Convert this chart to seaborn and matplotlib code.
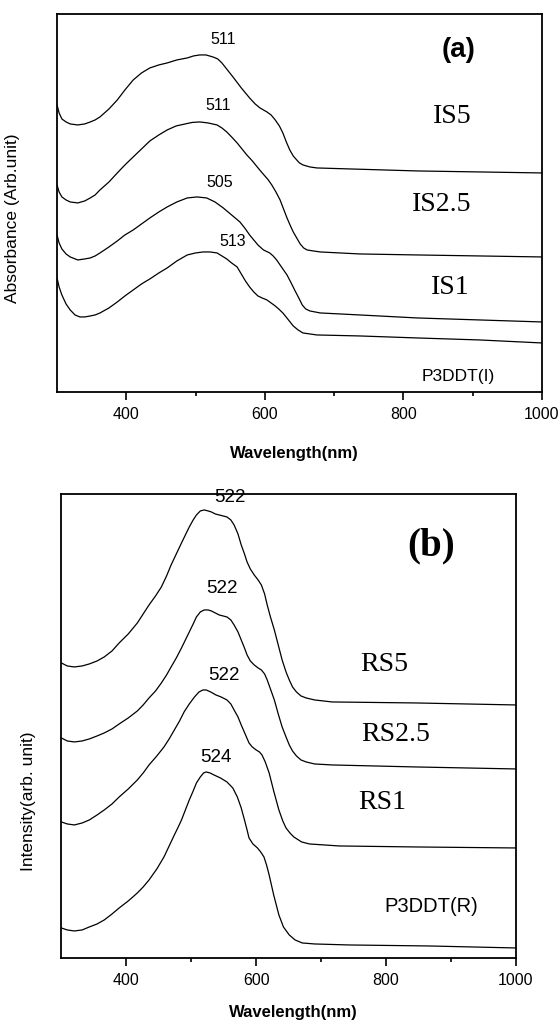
import pandas as pd
import matplotlib
matplotlib.use('Agg')
import matplotlib.pyplot as plt
import seaborn as sns

# --- panel (a): absorbance, curves stacked with offsets (arb. units) ---
wl_IS5 = [300, 303, 307, 313, 319, 330, 340, 348, 355, 362, 375, 387, 398, 410, 422, 434, 447, 459,
          473, 488, 497, 506, 515, 525, 532, 538, 546, 554, 566, 578, 586, 593, 603, 609, 615, 621,
          626, 631, 636, 641, 646, 650, 655, 665, 675, 723, 820, 910, 1000]
abs_IS5 = [2.85, 2.77, 2.71, 2.68, 2.66, 2.65, 2.66, 2.68, 2.70, 2.73, 2.81, 2.90, 3.00, 3.10, 3.17,
           3.22, 3.25, 3.27, 3.30, 3.32, 3.34, 3.35, 3.35, 3.33, 3.31, 3.27, 3.20, 3.13, 3.02, 2.92,
           2.86, 2.82, 2.78, 2.75, 2.70, 2.64, 2.57, 2.48, 2.40, 2.34, 2.30, 2.27, 2.25, 2.23, 2.22,
           2.21, 2.19, 2.18, 2.17]

wl_IS25 = [300, 303, 307, 313, 319, 330, 340, 348, 355, 362, 375, 387, 398, 410, 422, 434, 447, 459,
           472, 485, 495, 506, 518, 531, 538, 545, 552, 560, 567, 574, 582, 589, 595, 600, 605, 610,
           616, 622, 627, 632, 637, 641, 646, 651, 656, 661, 670, 680, 737, 820, 910, 1000]
abs_IS25 = [2.05, 1.98, 1.93, 1.90, 1.88, 1.87, 1.89, 1.92, 1.95, 2.00, 2.08, 2.17, 2.25, 2.33, 2.41,
            2.49, 2.55, 2.60, 2.64, 2.66, 2.675, 2.68, 2.67, 2.65, 2.62, 2.58, 2.53, 2.47, 2.41, 2.35,
            2.29, 2.23, 2.18, 2.14, 2.10, 2.05, 1.98, 1.90, 1.81, 1.72, 1.64, 1.58, 1.52, 1.46, 1.42,
            1.40, 1.39, 1.38, 1.36, 1.35, 1.34, 1.33]

wl_IS1 = [300, 303, 307, 313, 319, 330, 340, 348, 355, 362, 375, 387, 398, 410, 422, 434, 447, 459,
          473, 488, 502, 516, 528, 540, 552, 564, 572, 578, 584, 590, 598, 607, 612, 617, 624, 632,
          638, 643, 649, 654, 659, 665, 680, 737, 820, 910, 1000]
abs_IS1 = [1.55, 1.47, 1.41, 1.36, 1.33, 1.30, 1.31, 1.32, 1.34, 1.37, 1.43, 1.49, 1.55, 1.60, 1.66,
           1.72, 1.78, 1.83, 1.88, 1.92, 1.93, 1.92, 1.88, 1.82, 1.75, 1.68, 1.61, 1.55, 1.50, 1.45,
           1.40, 1.37, 1.34, 1.30, 1.23, 1.15, 1.07, 1.00, 0.92, 0.85, 0.81, 0.79, 0.77, 0.75, 0.72,
           0.70, 0.68]

wl_P3I = [300, 303, 307, 313, 319, 326, 333, 340, 348, 355, 362, 375, 387, 398, 410, 422, 434, 447,
          459, 473, 488, 500, 511, 521, 531, 538, 545, 552, 560, 566, 572, 578, 584, 590, 596, 603,
          609, 615, 620, 626, 633, 641, 648, 655, 665, 675, 737, 820, 910, 1000]
abs_P3I = [1.12, 1.03, 0.95, 0.86, 0.80, 0.75, 0.73, 0.73, 0.74, 0.75, 0.77, 0.82, 0.88, 0.94, 1.00,
           1.06, 1.11, 1.17, 1.22, 1.29, 1.35, 1.37, 1.38, 1.38, 1.37, 1.34, 1.31, 1.27, 1.23, 1.16,
           1.09, 1.03, 0.98, 0.94, 0.92, 0.90, 0.87, 0.84, 0.81, 0.77, 0.71, 0.64, 0.60, 0.57, 0.56,
           0.55, 0.54, 0.52, 0.50, 0.47]

# --- panel (b): PL intensity ---
wl_RS5 = [300, 309, 320, 332, 343, 355, 366, 378, 389, 403, 417, 426, 435, 445, 454, 462, 469, 477,
          485, 491, 497, 503, 508, 514, 520, 526, 531, 537, 543, 549, 555, 561, 566, 572, 577, 582,
          586, 591, 597, 603, 608, 613, 617, 622, 628, 634, 640, 646, 651, 656, 662, 669, 677, 690,
          717, 846, 1000]
int_RS5 = [2.95, 2.92, 2.91, 2.92, 2.94, 2.97, 3.01, 3.07, 3.15, 3.24, 3.35, 3.44, 3.53, 3.62, 3.71,
           3.82, 3.93, 4.04, 4.15, 4.23, 4.31, 4.38, 4.43, 4.47, 4.48, 4.47, 4.46, 4.44, 4.43, 4.42,
           4.41, 4.38, 4.33, 4.24, 4.13, 4.04, 3.96, 3.89, 3.83, 3.78, 3.73, 3.64, 3.53, 3.41, 3.28,
           3.13, 2.98, 2.86, 2.78, 2.71, 2.66, 2.62, 2.60, 2.58, 2.56, 2.55, 2.53]

wl_RS25 = [300, 309, 320, 332, 343, 355, 366, 378, 389, 403, 417, 426, 435, 445, 454, 462, 469, 477,
           485, 491, 497, 503, 508, 514, 520, 526, 531, 537, 543, 549, 555, 561, 566, 572, 577, 582,
           586, 591, 597, 603, 608, 613, 617, 622, 628, 634, 640, 646, 651, 656, 662, 669, 677, 690,
           717, 846, 1000]
int_RS25 = [2.20, 2.17, 2.16, 2.17, 2.19, 2.22, 2.25, 2.29, 2.34, 2.40, 2.47, 2.53, 2.60, 2.67, 2.75,
            2.83, 2.91, 3.00, 3.10, 3.18, 3.26, 3.34, 3.41, 3.46, 3.48, 3.48, 3.47, 3.45, 3.43, 3.42,
            3.41, 3.38, 3.33, 3.26, 3.18, 3.10, 3.03, 2.97, 2.93, 2.90, 2.88, 2.84, 2.78, 2.69, 2.58,
            2.44, 2.31, 2.21, 2.13, 2.07, 2.02, 1.98, 1.96, 1.94, 1.93, 1.91, 1.89]

wl_RS1 = [300, 309, 320, 332, 343, 355, 366, 378, 389, 403, 417, 426, 435, 447, 458, 466, 474, 482,
          489, 497, 505, 512, 518, 523, 530, 538, 546, 555, 561, 566, 572, 577, 583, 589, 594, 600,
          605, 609, 614, 620, 627, 635, 641, 646, 652, 658, 670, 682, 728, 846, 1000]
int_RS1 = [1.36, 1.34, 1.33, 1.35, 1.38, 1.43, 1.48, 1.54, 1.61, 1.69, 1.78, 1.85, 1.93, 2.02, 2.11,
           2.19, 2.28, 2.37, 2.46, 2.54, 2.61, 2.66, 2.68, 2.68, 2.66, 2.63, 2.61, 2.58, 2.54, 2.48,
           2.41, 2.33, 2.24, 2.15, 2.11, 2.08, 2.06, 2.03, 1.96, 1.85, 1.67, 1.48, 1.37, 1.30, 1.25,
           1.21, 1.16, 1.14, 1.12, 1.11, 1.10]

wl_P3R = [300, 309, 320, 332, 343, 355, 366, 378, 389, 403, 417, 426, 435, 447, 458, 466, 474, 480,
          485, 491, 497, 503, 508, 514, 519, 523, 529, 535, 545, 555, 564, 571, 577, 582, 586, 589,
          595, 602, 607, 612, 616, 620, 627, 635, 642, 651, 660, 671, 690, 743, 866, 1000]
int_P3R = [0.30, 0.28, 0.27, 0.28, 0.31, 0.34, 0.38, 0.44, 0.50, 0.57, 0.65, 0.71, 0.78, 0.89, 1.01,
           1.12, 1.23, 1.31, 1.38, 1.48, 1.58, 1.67, 1.75, 1.81, 1.85, 1.86, 1.85, 1.83, 1.80, 1.76,
           1.70, 1.61, 1.50, 1.38, 1.28, 1.20, 1.14, 1.10, 1.06, 1.01, 0.93, 0.83, 0.63, 0.43, 0.31,
           0.23, 0.18, 0.15, 0.14, 0.13, 0.12, 0.10]

# peak annotations: text, wavelength, height
peaks_a = [('511', 540, 3.50), ('511', 532, 2.84), ('505', 535, 2.07), ('513', 553, 1.48)]
names_a = [('IS5', 870, 2.73), ('IS2.5', 856, 1.85), ('IS1', 867, 1.02)]
peaks_b = [('522', 560, 4.60), ('522', 548, 3.69), ('522', 551, 2.82), ('524', 538, 2.00)]
names_b = [('RS5', 797, 2.93), ('RS2.5', 815, 2.23), ('RS1', 794, 1.55)]

sns.set_style('ticks')
plt.rcParams['font.family'] = ['Liberation Sans', 'DejaVu Sans']
plt.rcParams['text.color'] = 'black'
plt.rcParams['axes.labelcolor'] = 'black'

fig = plt.figure(figsize=(5.58, 10.25), dpi=100)
ax1 = fig.add_axes([0.1022, 0.6176, 0.869, 0.3688])
ax2 = fig.add_axes([0.110, 0.0654, 0.8145, 0.4527])

for wl, vals in [(wl_IS5, abs_IS5), (wl_IS25, abs_IS25), (wl_IS1, abs_IS1), (wl_P3I, abs_P3I)]:
    sns.lineplot(x=wl, y=vals, ax=ax1, color='black', lw=0.9, estimator=None, sort=False)
for wl, vals in [(wl_RS5, int_RS5), (wl_RS25, int_RS25), (wl_RS1, int_RS1), (wl_P3R, int_P3R)]:
    sns.lineplot(x=wl, y=vals, ax=ax2, color='black', lw=0.9, estimator=None, sort=False)

ax1.set_ylim(-0.02, 3.76)
ax2.set_ylim(0, 4.64)

for ax in (ax1, ax2):
    ax.set_xlim(300, 1000)
    ax.set_xticks([400, 600, 800, 1000])
    ax.set_xticks([500, 700, 900], minor=True)
    ax.set_yticks([])
    for sp in ax.spines.values():
        sp.set_visible(True)
        sp.set_linewidth(1.3)
        sp.set_color('black')
    ax.tick_params(axis='x', which='major', direction='out', length=6, width=1.2, pad=4.5,
                   labelsize=11.5, colors='black')
    ax.tick_params(axis='x', which='minor', direction='out', length=3, width=1.2, colors='black')

# panel (a) texts
for t, x, y in peaks_a:
    ax1.text(x, y, t, ha='center', va='center', fontsize=11.5)
for t, x, y in names_a:
    ax1.text(x, y, t, ha='center', va='center', fontsize=20, family='Liberation Serif')
ax1.text(879, 0.13, 'P3DDT(I)', ha='center', va='center', fontsize=12.5)
ax1.text(880, 3.40, '(a)', ha='center', va='center', fontsize=20, fontweight='bold')
ax1.set_xlabel('Wavelength(nm)', fontsize=12, fontweight='bold')
ax1.xaxis.set_label_coords(0.489, -0.143)
ax1.set_ylabel('Absorbance (Arb.unit)', fontsize=12.5)
ax1.yaxis.set_label_coords(-0.076, 0.46)

# panel (b) texts
for t, x, y in peaks_b:
    ax2.text(x, y, t, ha='center', va='center', fontsize=13.5)
for t, x, y in names_b:
    ax2.text(x, y, t, ha='center', va='center', fontsize=20, family='Liberation Serif')
ax2.text(869, 0.51, 'P3DDT(R)', ha='center', va='center', fontsize=14.5)
ax2.text(869, 4.12, '(b)', ha='center', va='center', fontsize=28, fontweight='bold',
         family='Liberation Serif')
ax2.set_xlabel('Wavelength(nm)', fontsize=12, fontweight='bold')
ax2.xaxis.set_label_coords(0.511, -0.101)
ax2.set_ylabel('Intensity(arb. unit)', fontsize=12.5)
ax2.yaxis.set_label_coords(-0.056, 0.338)

fig.savefig('out.png', dpi=100, facecolor='white')
